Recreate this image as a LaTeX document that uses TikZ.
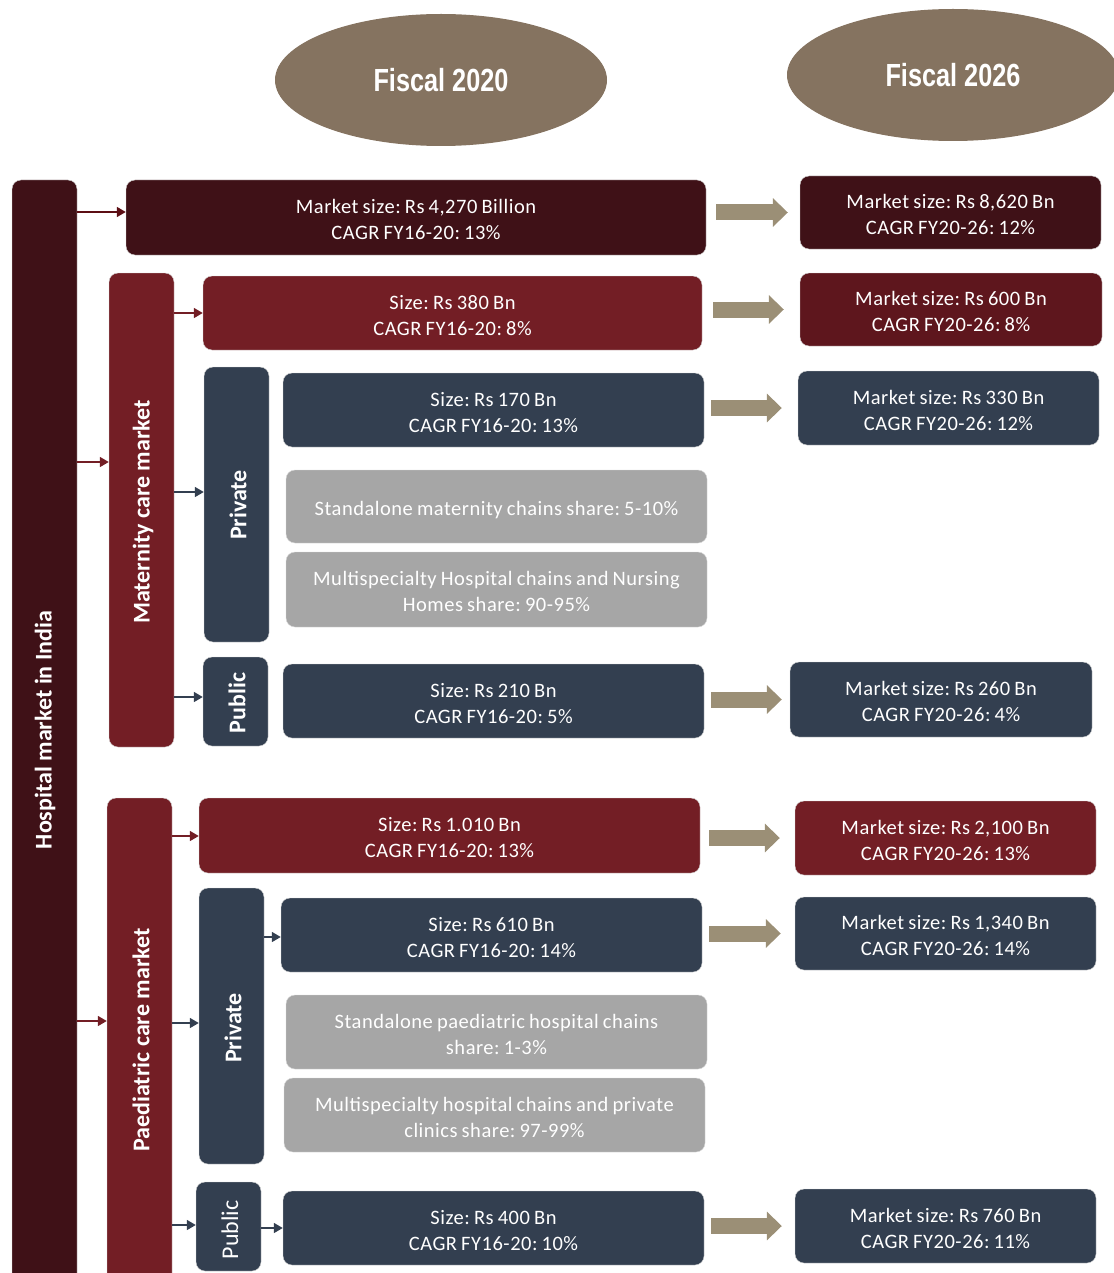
\documentclass[tikz,border=0pt]{standalone}
\usepackage{fontspec}
\setmainfont{Carlito}
\newfontfamily\narrowfont[FakeStretch=0.79]{Liberation Sans}
\newfontfamily\boxfont[LetterSpace=2.5,WordSpace=0.8]{Carlito}
\frenchspacing
\usetikzlibrary{arrows.meta,shapes.geometric}
\definecolor{hospc}{HTML}{3F1117}
\definecolor{redc}{HTML}{731E25}
\definecolor{redd}{HTML}{5E161D}
\definecolor{navyc}{HTML}{333F50}
\definecolor{grayc}{HTML}{A6A6A6}
\definecolor{tanc}{HTML}{9B8F76}
\definecolor{ellc}{HTML}{857360}
\tikzset{
  box/.style={rounded corners=9pt, inner sep=0pt, align=center, text=white,
    draw=white!85!black, line width=0.4pt, font=\boxfont\fontsize{20.5}{26}\selectfont\frenchspacing},
  hospbox/.style={box, fill=hospc},
  redbox/.style={box, fill=redc},
  reddbox/.style={box, fill=redd},
  navybox/.style={box, fill=navyc},
  graybox/.style={box, fill=grayc},
  vlab/.style={rotate=90, text=white, inner sep=0pt, font=\fontsize{24}{28}\selectfont\bfseries},
  vlabr/.style={rotate=90, text=white, inner sep=0pt, font=\fontsize{24}{28}\selectfont},
  sarrow/.style={line width=1.6pt, -{Triangle[length=9pt,width=10pt]}},
  bigarrow/.style={draw=tanc, line width=16pt, -{Triangle[length=15pt,width=28pt]}},
  fisc/.style={ellipse, fill=ellc, text=white, minimum width=332pt, minimum height=132pt,
    inner sep=0pt, font=\fontsize{32}{36}\selectfont\narrowfont\bfseries},
}
\newcommand\bx[7]{\node[#6, minimum width={(#4-#2)*1pt}, minimum height={(#5-#3)*1pt}] (#1) at ({(#2+#4)/2},{(#3+#5)/2}) {\raisebox{-4pt}[\height][\depth]{\begin{tabular}{@{}c@{}}#7\end{tabular}}};}
\newcommand\bigarr[4]{\draw[bigarrow, shorten <=#3pt, shorten >=#4pt] (#1.west -| #2.east) -- (#1.west);}
\begin{document}
\begin{tikzpicture}[x=1pt,y=-1pt]
\useasboundingbox (0,0) rectangle (1113,1273);
% ellipses
\node[fisc] (f20) at (441,80) {\raisebox{-3pt}{Fiscal 2020}};
\node[fisc] (f26) at (953,75) {Fiscal 2026};
% columns
\bx{hosp}{12}{180}{77}{1290}{hospbox}{}
\node[vlab] (hospl) at (45,730) {Hospital market in India};
\bx{mat}{109}{273}{174}{747}{redbox}{}
\node[vlab] (matl) at (143,512) {Maternity care market};
\bx{paed}{107}{798}{172}{1290}{redbox}{}
\node[vlab] (paedl) at (141,1040) {Paediatric care market};
\bx{mpriv}{204}{367}{269}{642}{navybox}{}
\node[vlab] (mprivl) at (238,505) {Private};
\bx{mpub}{203}{657}{268}{746}{navybox}{}
\node[vlab] (mpubl) at (237,703) {Public};
\bx{ppriv}{199}{888}{264}{1164}{navybox}{}
\node[vlab] (pprivl) at (233,1028) {Private};
\bx{ppub}{196}{1182}{261}{1271}{navybox}{}
\node[vlabr] (ppubl) at (230,1230) {Public};
% fiscal 2020 boxes
\bx{top}{126}{180}{706}{255}{hospbox}{Market size: Rs 4,270 Billion\\CAGR FY16-20: 13\%}
\bx{m1}{203}{276}{702}{350}{redbox}{Size: Rs 380 Bn\\CAGR FY16-20: 8\%}
\bx{m2}{283}{373}{704}{447}{navybox}{Size: Rs 170 Bn\\CAGR FY16-20: 13\%}
\bx{mg1}{286}{470}{707}{543}{graybox}{Standalone maternity chains share: 5-10\%}
\bx{mg2}{286}{552}{707}{627}{graybox}{Multispecialty Hospital chains and Nursing\\Homes share: 90-95\%}
\bx{m3}{283}{664}{704}{738}{navybox}{Size: Rs 210 Bn\\CAGR FY16-20: 5\%}
\bx{p1}{199}{798}{700}{873}{redbox}{Size: Rs 1.010 Bn\\CAGR FY16-20: 13\%}
\bx{p2}{281}{898}{702}{972}{navybox}{Size: Rs 610 Bn\\CAGR FY16-20: 14\%}
\bx{pg1}{286}{995}{707}{1069}{graybox}{Standalone paediatric hospital chains\\share: 1-3\%}
\bx{pg2}{284}{1078}{705}{1152}{graybox}{Multispecialty hospital chains and private\\clinics share: 97-99\%}
\bx{p3}{283}{1191}{704}{1265}{navybox}{Size: Rs 400 Bn\\CAGR FY16-20: 10\%}
% fiscal 2026 boxes
\bx{topR}{800}{176}{1101}{249}{hospbox}{Market size: Rs 8,620 Bn\\CAGR FY20-26: 12\%}
\bx{m1R}{800}{273}{1102}{346}{reddbox}{Market size: Rs 600 Bn\\CAGR FY20-26: 8\%}
\bx{m2R}{798}{371}{1099}{445}{navybox}{Market size: Rs 330 Bn\\CAGR FY20-26: 12\%}
\bx{m3R}{790}{662}{1092}{737}{navybox}{Market size: Rs 260 Bn\\CAGR FY20-26: 4\%}
\bx{p1R}{795}{801}{1096}{875}{redbox}{Market size: Rs 2,100 Bn\\CAGR FY20-26: 13\%}
\bx{p2R}{795}{897}{1096}{970}{navybox}{Market size: Rs 1,340 Bn\\CAGR FY20-26: 14\%}
\bx{p3R}{795}{1189}{1096}{1263}{navybox}{Market size: Rs 760 Bn\\CAGR FY20-26: 11\%}
% big arrows
\bigarr{topR}{top}{10}{12}
\bigarr{m1R}{m1}{11}{16}
\bigarr{m2R}{m2}{7}{16}
\bigarr{m3R}{m3}{7}{8}
\bigarr{p1R}{p1}{9}{15}
\bigarr{p2R}{p2}{7}{14}
\bigarr{p3R}{p3}{7}{13}
% small arrows
\draw[sarrow, draw=hospc!85!red, fill=hospc!85!red] (hosp.east |- 0,212) -- (top.west |- 0,212);
\draw[sarrow, draw=redc, fill=redc] (hosp.east |- 0,462) -- (mat.west |- 0,462);
\draw[sarrow, draw=redc, fill=redc] (hosp.east |- 0,1021) -- (paed.west |- 0,1021);
\draw[sarrow, draw=redc, fill=redc] (mat.east |- 0,313) -- (m1.west |- 0,313);
\draw[sarrow, draw=navyc, fill=navyc] (mat.east |- 0,492) -- (mpriv.west |- 0,492);
\draw[sarrow, draw=navyc, fill=navyc] (mat.east |- 0,697) -- (mpub.west |- 0,697);
\draw[sarrow, draw=redc, fill=redc] (paed.east |- 0,836) -- (p1.west |- 0,836);
\draw[sarrow, draw=navyc, fill=navyc] (paed.east |- 0,1023) -- (ppriv.west |- 0,1023);
\draw[sarrow, draw=navyc, fill=navyc] (ppriv.east |- 0,937) -- (p2.west |- 0,937);
\draw[sarrow, draw=navyc, fill=navyc] (paed.east |- 0,1225) -- (ppub.west |- 0,1225);
\draw[sarrow, draw=navyc, fill=navyc] (ppub.east |- 0,1228) -- (p3.west |- 0,1228);
\end{tikzpicture}
\end{document}
